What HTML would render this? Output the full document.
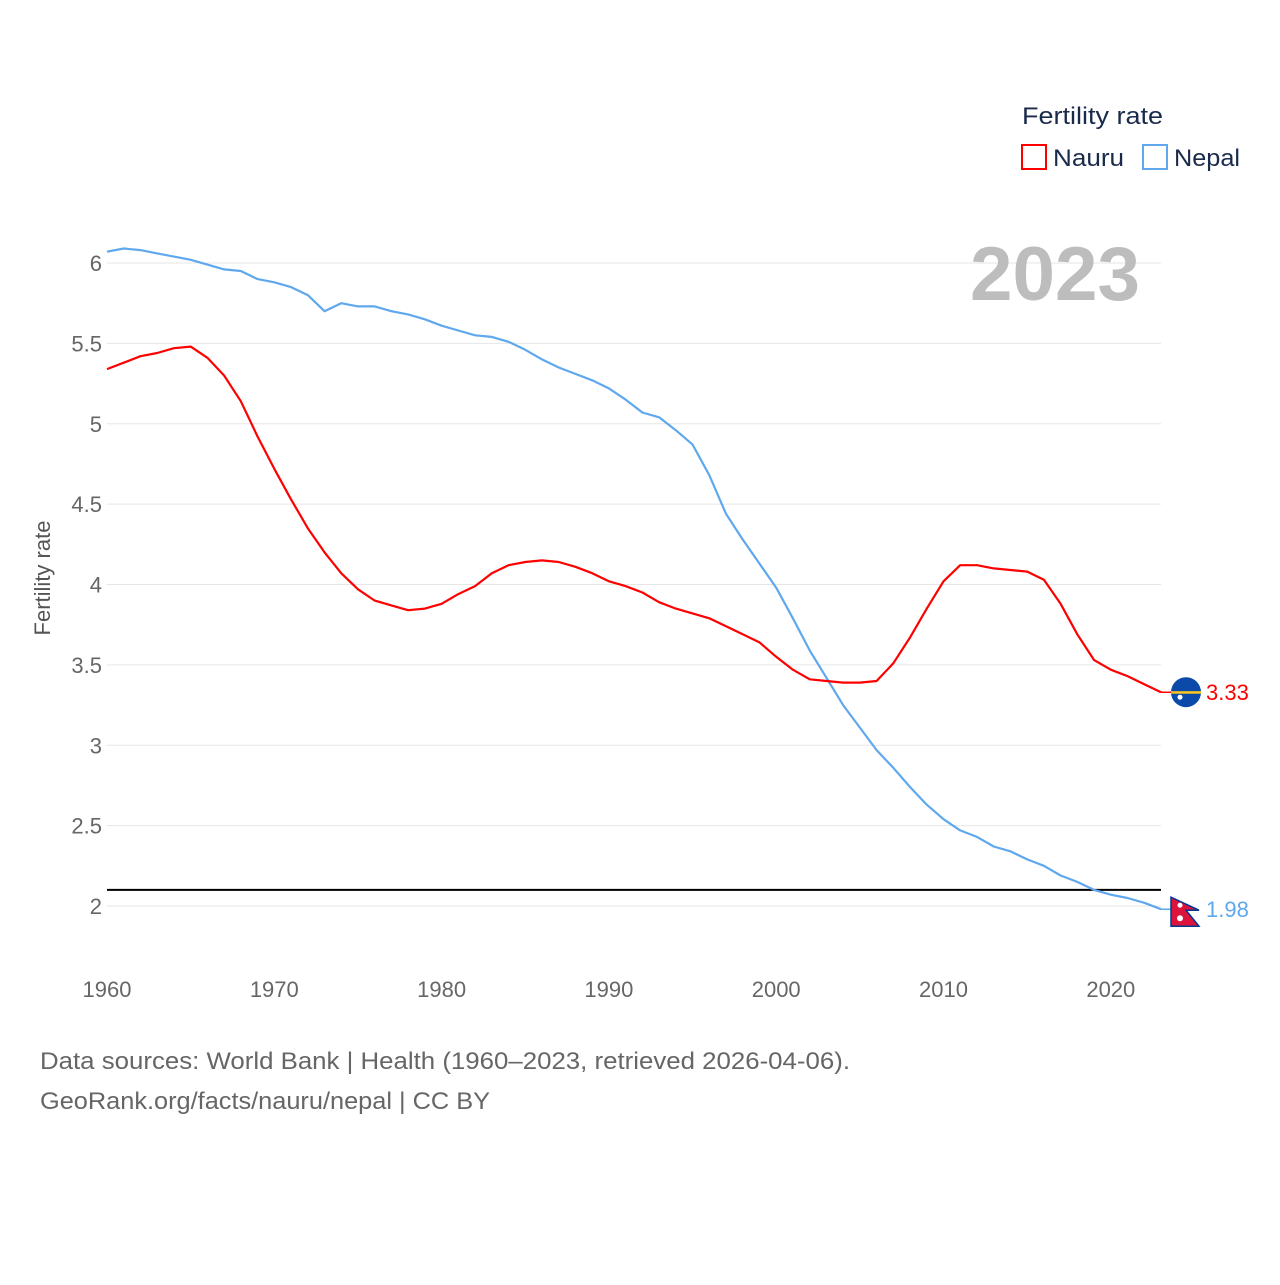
<!DOCTYPE html>
<html><head><meta charset="utf-8"><style>
body{margin:0;background:#fff;font-family:"Liberation Sans",sans-serif;}
svg text{font-family:"Liberation Sans",sans-serif;}
</style></head><body>
<svg id="c" width="1280" height="1280" viewBox="0 0 1280 1280">
<g id="grid"></g>
<g id="yt"></g>
<g id="xt"></g>
<text x="1140" y="300" text-anchor="end" font-size="76" font-weight="bold" fill="#bdbdbd" textLength="170" lengthAdjust="spacingAndGlyphs">2023</text>
<text transform="translate(50,578) rotate(-90)" text-anchor="middle" font-size="22" fill="#555">Fertility rate</text>
<text x="1022" y="124" font-size="24" fill="#1a2a4a" textLength="141" lengthAdjust="spacingAndGlyphs">Fertility rate</text>
<g><rect x="1022" y="145" width="24" height="24" fill="none" stroke="#f00" stroke-width="2"/><text x="1053" y="166" font-size="24" fill="#1a2a4a" textLength="71" lengthAdjust="spacingAndGlyphs">Nauru</text></g>
<g><rect x="1143" y="145" width="24" height="24" fill="none" stroke="#5fa8ee" stroke-width="2"/><text x="1174" y="166" font-size="24" fill="#1a2a4a" textLength="66" lengthAdjust="spacingAndGlyphs">Nepal</text></g>
<g id="series"></g>
<text x="40" y="1069" font-size="24" fill="#666" textLength="810" lengthAdjust="spacingAndGlyphs">Data sources: World Bank | Health (1960–2023, retrieved 2026-04-06).</text>
<text x="40" y="1109" font-size="24" fill="#666" textLength="450" lengthAdjust="spacingAndGlyphs">GeoRank.org/facts/nauru/nepal | CC BY</text>
</svg>
<script>
const years=[];for(let y=1960;y<=2023;y++)years.push(y);
const nauru=[5.34,5.38,5.42,5.44,5.47,5.48,5.41,5.30,5.14,4.92,4.72,4.53,4.35,4.20,4.07,3.97,3.90,3.87,3.84,3.85,3.88,3.94,3.99,4.07,4.12,4.14,4.15,4.14,4.11,4.07,4.02,3.99,3.95,3.89,3.85,3.82,3.79,3.74,3.69,3.64,3.55,3.47,3.41,3.40,3.39,3.39,3.40,3.51,3.67,3.85,4.02,4.12,4.12,4.10,4.09,4.08,4.03,3.88,3.69,3.53,3.47,3.43,3.38,3.33];
const nepal=[6.07,6.09,6.08,6.06,6.04,6.02,5.99,5.96,5.95,5.90,5.88,5.85,5.80,5.70,5.75,5.73,5.73,5.70,5.68,5.65,5.61,5.58,5.55,5.54,5.51,5.46,5.40,5.35,5.31,5.27,5.22,5.15,5.07,5.04,4.96,4.87,4.68,4.44,4.28,4.13,3.98,3.79,3.59,3.42,3.25,3.11,2.97,2.86,2.74,2.63,2.54,2.47,2.43,2.37,2.34,2.29,2.25,2.19,2.15,2.10,2.07,2.05,2.02,1.98];
const yTicks=[2,2.5,3,3.5,4,4.5,5,5.5,6];
const xTicks=[1960,1970,1980,1990,2000,2010,2020];
const replacement=2.1;
const NS="http://www.w3.org/2000/svg";
const X=y=>107+(y-1960)*(1161-107)/63;
const Y=v=>906-(v-2)*(906-263)/4;
function mk(tag,attrs,parent,txt){const e=document.createElementNS(NS,tag);for(const k in attrs)e.setAttribute(k,attrs[k]);if(txt!=null)e.textContent=txt;parent.appendChild(e);return e;}
const grid=document.getElementById('grid'),yt=document.getElementById('yt'),xt=document.getElementById('xt'),ser=document.getElementById('series');
yTicks.forEach(v=>{
 const l=mk('line',{x1:107,x2:1161,y1:Y(v),y2:Y(v),stroke:'#e6e6e6','stroke-width':1},grid);
 
 
 const t=mk('text',{x:102,y:Y(v)+8,'text-anchor':'end','font-size':22,fill:'#666'},yt,String(v));
 
 
});
xTicks.forEach(v=>{
 const t=mk('text',{x:X(v),y:997,'text-anchor':'middle','font-size':22,fill:'#666'},xt,String(v));
 
 
});
const rl=mk('line',{x1:107,x2:1161,y1:Y(replacement),y2:Y(replacement),stroke:'#000','stroke-width':2},ser);


function line(data,color,name){
 const d=data.map((v,i)=>(i?'L':'M')+X(years[i]).toFixed(1)+','+Y(v).toFixed(1)).join('');
 const p=mk('path',{d:d,fill:'none',stroke:color,'stroke-width':2.2,'stroke-linejoin':'round'},ser);
 
 
}
line(nepal,'#5fa8ee','nepal-line');
line(nauru,'#f00','nauru-line');
const ln=nauru[nauru.length-1],lp=nepal[nepal.length-1];
const g1=mk('g',{},ser);


mk('line',{x1:1161,x2:1200,y1:Y(ln),y2:Y(ln),stroke:'#f00','stroke-width':1.5},g1);
mk('circle',{cx:1186,cy:Y(ln),r:15,fill:'#0b4aa8'},g1);
mk('rect',{x:1171,y:Y(ln)-1,width:30,height:2.5,fill:'#ffc61e'},g1);
mk('circle',{cx:1180,cy:Y(ln)+5,r:2.5,fill:'#fff'},g1);
mk('text',{x:1206,y:Y(ln)+8,'font-size':22,fill:'#f00'},g1,ln.toFixed(2));
const g2=mk('g',{},ser);


mk('line',{x1:1161,x2:1200,y1:Y(lp),y2:Y(lp),stroke:'#5fa8ee','stroke-width':1.5},g2);
mk('circle',{cx:1186,cy:Y(lp)+2,r:15,fill:'#fff'},g2);
mk('path',{d:`M1171,${Y(lp)-12} L1199,${Y(lp)+1} L1186,${Y(lp)+1} L1199,${Y(lp)+17} L1171,${Y(lp)+17}Z`,fill:'#dc143c',stroke:'#003893','stroke-width':1.5},g2);
mk('circle',{cx:1180,cy:Y(lp)-4,r:2.5,fill:'#fff'},g2);
mk('circle',{cx:1180,cy:Y(lp)+9,r:3,fill:'#fff'},g2);
mk('text',{x:1206,y:Y(lp)+8,'font-size':22,fill:'#5fa8ee'},g2,lp.toFixed(2));
</script>
</body></html>
